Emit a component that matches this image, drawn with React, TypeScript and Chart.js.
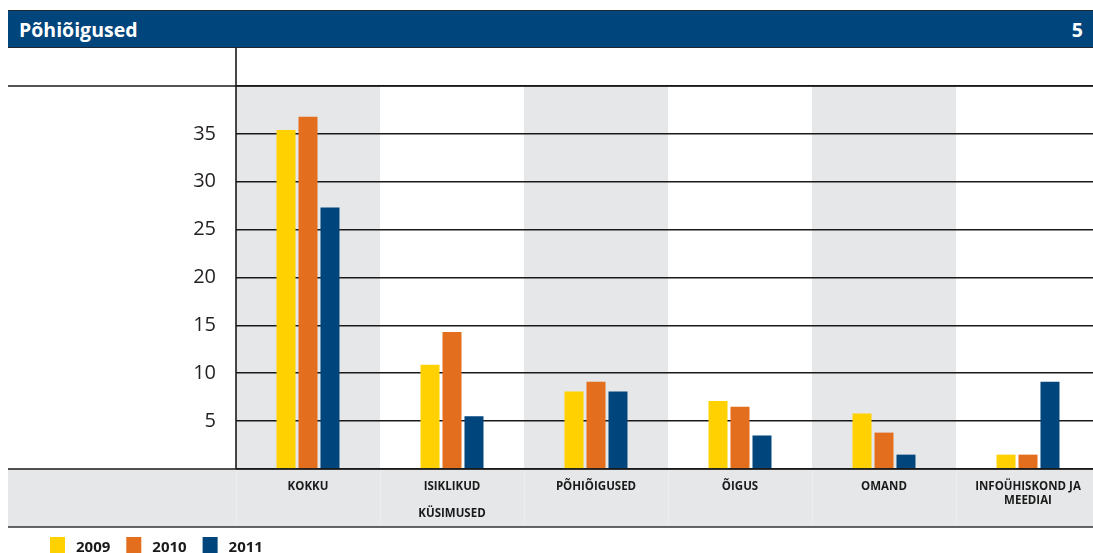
import React, { useEffect, useRef } from 'react';
import { Chart, registerables } from 'chart.js';

Chart.register(...registerables);

const title = 'Põhiõigused';
const pageNumber = '5';
const categories: string[][] = [
  ['KOKKU'],
  ['ISIKLIKUD', '', 'KÜSIMUSED'],
  ['PÕHIÕIGUSED'],
  ['ÕIGUS'],
  ['OMAND'],
  ['INFOÜHISKOND JA', 'MEEDIAI'],
];
const seriesLabels = ['2009', '2010', '2011'];
const series2009 = [35.4, 10.9, 8.1, 7.1, 5.8, 1.5];
const series2010 = [36.8, 14.3, 9.1, 6.5, 3.8, 1.5];
const series2011 = [27.3, 5.5, 8.1, 3.5, 1.5, 9.1];
const seriesColors = ['#FFD100', '#E36F1E', '#00457C'];
const yTicks = { min: 0, max: 40, step: 5 };

const FONT = '"Open Sans", "DejaVu Sans", sans-serif';
const GRAY = '#E6E7E8';
const LINE = '#1a1a1a';
const LABEL_AREA_H = 58;

const decorPlugin = {
  id: 'decor',
  beforeDraw(chart: any) {
    const { ctx, chartArea, scales, width } = chart;
    const xs = scales.x;
    const n = chart.data.labels.length;
    const w = xs.width / n;
    ctx.save();
    ctx.fillStyle = GRAY;
    for (let i = 0; i < n; i += 2) {
      const cx = xs.getPixelForValue(i);
      ctx.fillRect(cx - w / 2, chartArea.top, w, chartArea.bottom - chartArea.top);
    }
    ctx.fillRect(0, chartArea.bottom, width, LABEL_AREA_H);
    ctx.strokeStyle = '#ECEDEE';
    ctx.lineWidth = 1;
    for (let i = 0; i <= n; i++) {
      const x = Math.round(xs.left + i * w) + 0.5;
      ctx.beginPath();
      ctx.moveTo(x, chartArea.bottom);
      ctx.lineTo(x, chartArea.bottom + LABEL_AREA_H);
      ctx.stroke();
    }
    ctx.restore();
  },
  afterDraw(chart: any) {
    const { ctx, chartArea, width } = chart;
    ctx.save();
    ctx.strokeStyle = LINE;
    ctx.lineWidth = 1.6;
    const hline = (y: number) => {
      ctx.beginPath();
      ctx.moveTo(0, y);
      ctx.lineTo(width, y);
      ctx.stroke();
    };
    hline(chartArea.top);
    hline(chartArea.bottom);
    ctx.strokeStyle = '#333';
    hline(chartArea.bottom + LABEL_AREA_H);
    ctx.strokeStyle = LINE;
    ctx.beginPath();
    ctx.moveTo(chartArea.left, 0);
    ctx.lineTo(chartArea.left, chartArea.bottom);
    ctx.stroke();

    // legend
    ctx.font = `bold 15px ${FONT}`;
    ctx.textBaseline = 'alphabetic';
    ctx.textAlign = 'left';
    let x = 42;
    const y = chartArea.bottom + LABEL_AREA_H + 10;
    chart.data.datasets.forEach((ds: any) => {
      ctx.fillStyle = ds.backgroundColor;
      ctx.fillRect(x, y, 15, 16);
      ctx.fillStyle = '#1a1a1a';
      ctx.fillText(ds.label, x + 26, y + 15);
      x += 26 + ctx.measureText(ds.label).width + 16;
    });
    ctx.restore();
  },
};

export default function App() {
  const ref = useRef<HTMLCanvasElement>(null);
  useEffect(() => {
    if (!ref.current) return;
    const chart = new Chart(ref.current, {
      type: 'bar',
      data: {
        labels: categories,
        datasets: [series2009, series2010, series2011].map((d, i) => ({
          label: seriesLabels[i],
          data: d,
          backgroundColor: seriesColors[i],
          borderWidth: 0,
        })),
      },
      options: {
        animation: false,
        responsive: false,
        maintainAspectRatio: false,
        layout: { padding: { top: 38, left: 0, right: 0, bottom: 0 } },
        plugins: { legend: { display: false }, tooltip: { enabled: false } },
        datasets: { bar: { categoryPercentage: 0.458, barPercentage: 0.864 } },
        scales: {
          x: {
            grid: { display: false, drawTicks: false },
            border: { display: false },
            ticks: {
              autoSkip: false,
              maxRotation: 0,
              padding: 11,
              color: '#1a1a1a',
              font: { family: FONT, size: 11.5, weight: 'bold', lineHeight: '13.5px' },
            },
            afterFit: (s: any) => { s.height = 84; },
          },
          y: {
            min: yTicks.min,
            max: yTicks.max,
            ticks: {
              stepSize: yTicks.step,
              padding: 20,
              color: '#231f20',
              font: { family: FONT, size: 20 },
              callback: (v: any) => (v === yTicks.min || v === yTicks.max ? '' : String(v)),
            },
            grid: { color: LINE, lineWidth: 1.6, drawTicks: false },
            border: { display: false },
            afterFit: (s: any) => { s.width = 228; },
          },
        },
      } as any,
      plugins: [decorPlugin],
    });
    return () => chart.destroy();
  }, []);

  return (
    <div style={{ position: 'fixed', left: 8, top: 8, width: 1085, height: 545, overflow: 'hidden' }}>
      <div
        style={{
          marginTop: 2,
          height: 38,
          boxSizing: 'border-box',
          background: '#00457C',
          borderTop: '1px solid #1c2733',
          borderBottom: '1px solid #1c2733',
          display: 'flex',
          alignItems: 'center',
          justifyContent: 'space-between',
          padding: '0 10px 0 11px',
          color: '#fff',
          fontFamily: FONT,
          fontWeight: 'bold',
          fontSize: 19.5,
        }}
      >
        <span>{title}</span>
        <span>{pageNumber}</span>
      </div>
      <div style={{ width: 1092, height: 505 }}>
        <canvas ref={ref} width={1092} height={505} style={{ display: 'block', width: 1092, height: 505 }} />
      </div>
    </div>
  );
}
